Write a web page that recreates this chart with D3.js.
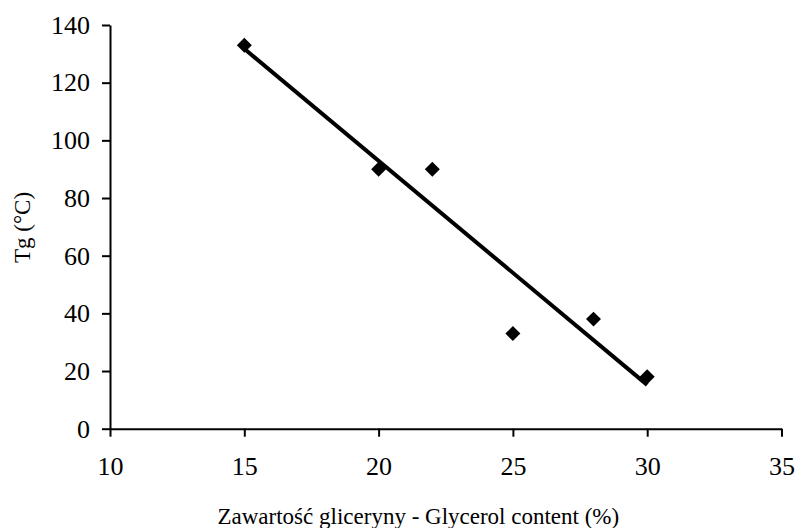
<!DOCTYPE html>
<html>
<head>
<meta charset="utf-8">
<script src="https://cdn.jsdelivr.net/npm/d3@7"></script>
<style>
body { margin: 0; background: #fff; }
svg { display: block; }
.axis path, .axis line { stroke: #000; stroke-width: 2; }
.label { font-family: "Liberation Serif", "Times New Roman", serif; font-size: 23px; fill: #000; }
</style>
</head>
<body>
<script>
var glycerol = [15, 20, 22, 25, 28, 30];
var tg = [133, 90, 90, 33, 38, 18];
var xTicks = [10, 15, 20, 25, 30, 35];
var yTicks = [0, 20, 40, 60, 80, 100, 120, 140];

window.onload = setChart();

function setChart(){
    var width = 797,
        height = 528,
        left = 110,
        right = 781.5,
        top = 25,
        bottom = 428.7;

    var svg = d3.select("body")
        .append("svg")
        .attr("width", width)
        .attr("height", height);

    var x = d3.scaleLinear().domain([10, 35]).range([left, right]);
    var y = d3.scaleLinear().domain([0, 140]).range([bottom, top]);

    //axes
    svg.append("g")
        .attr("class", "axis")
        .attr("transform", "translate(0," + bottom + ")")
        .call(d3.axisBottom(x).tickValues(xTicks).tickSize(8).tickSizeOuter(0).tickPadding(20));

    svg.append("g")
        .attr("class", "axis")
        .attr("transform", "translate(" + left + ",0)")
        .call(d3.axisLeft(y).tickValues(yTicks).tickSize(8).tickSizeOuter(0).tickPadding(12));

    svg.selectAll(".axis").attr("font-family", null).attr("font-size", null);
    svg.selectAll(".axis text")
        .style("font-family", "'Liberation Serif', 'Times New Roman', serif")
        .style("font-size", "26px")
        .style("fill", "#000");

    //least squares trend line through the points
    var n = glycerol.length,
        mx = d3.mean(glycerol),
        my = d3.mean(tg),
        sxy = 0, sxx = 0;
    for (var i=0; i<n; i++){
        sxy += (glycerol[i] - mx) * (tg[i] - my);
        sxx += (glycerol[i] - mx) * (glycerol[i] - mx);
    };
    var slope = sxy / sxx,
        intercept = my - slope * mx;
    var ends = d3.extent(glycerol);

    //markers
    svg.selectAll(".pt")
        .data(glycerol)
        .enter()
        .append("path")
        .attr("class", "pt")
        .attr("d", d3.symbol().type(d3.symbolDiamond2).size(143))
        .attr("transform", function(d, i){
            return "translate(" + x(d) + "," + y(tg[i]) + ")";
        })
        .style("fill", "#000");

    svg.append("line")
        .attr("x1", x(ends[0]))
        .attr("y1", y(slope * ends[0] + intercept))
        .attr("x2", x(ends[1]))
        .attr("y2", y(slope * ends[1] + intercept))
        .style("stroke", "#000")
        .style("stroke-width", 4);

    //titles
    svg.append("text")
        .attr("class", "label")
        .attr("x", (216.7 + 620) / 2)
        .attr("y", 524)
        .attr("text-anchor", "middle")
        .text("Zawartość gliceryny - Glycerol content (%)");

    svg.append("text")
        .attr("class", "label")
        .attr("transform", "translate(30,227.5) rotate(-90)")
        .attr("text-anchor", "middle")
        .text("Tg (°C)");
};
</script>
</body>
</html>
